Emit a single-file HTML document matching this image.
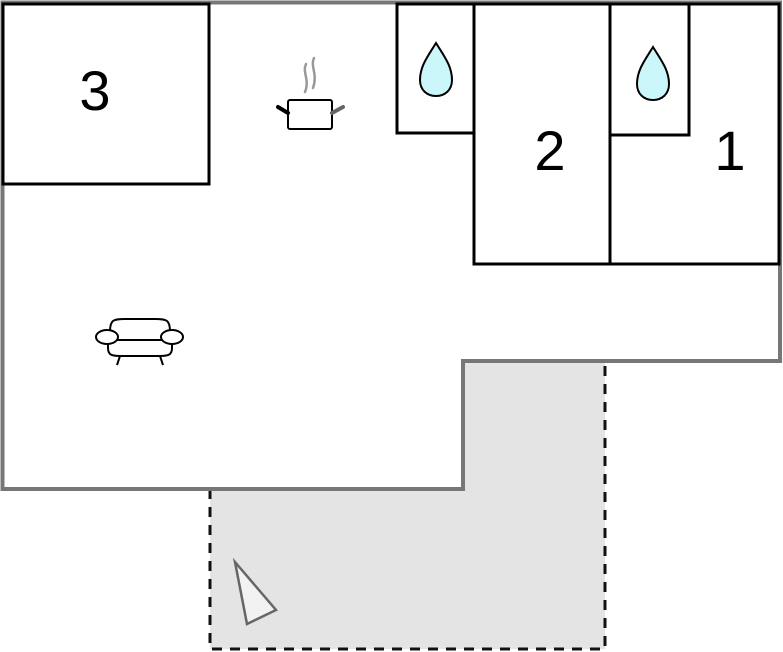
<!DOCTYPE html>
<html><head><meta charset="utf-8"><style>
html,body{margin:0;padding:0;background:#fff;width:783px;height:652px;overflow:hidden}
svg{display:block}
text{font-family:"Liberation Sans",sans-serif;font-size:56px;fill:#000}
</style></head><body>
<svg width="783" height="652" viewBox="0 0 783 652" xmlns="http://www.w3.org/2000/svg">
<!-- terrace -->
<rect x="210" y="362" width="395" height="287" fill="#e4e4e4"/>
<path d="M210 489 V649 H605 V362" fill="none" stroke="#111" stroke-width="3" stroke-dasharray="10,8"/>
<!-- outer wall -->
<path d="M2.5 2.5 H780 V361 H463 V489 H2.5 Z" fill="#fff" stroke="#777" stroke-width="4"/>
<path d="M2.5 2.5 H780 V361 H463 V489 H2.5 Z" fill="none" stroke="none"/>
<!-- rooms -->
<g fill="#fff" stroke="#000" stroke-width="3">
<rect x="3" y="4" width="206" height="180"/>
<rect x="397" y="4" width="77" height="129"/>
<rect x="474" y="4" width="136" height="260"/>
<rect x="610" y="4" width="169" height="260"/>
<rect x="610" y="4" width="79" height="131"/>
</g>
<text x="95" y="110" text-anchor="middle">3</text>
<text x="550" y="170" text-anchor="middle">2</text>
<text x="730" y="170" text-anchor="middle">1</text>
<!-- drops -->
<g fill="#ccf7fa" stroke="#000" stroke-width="2">
<path d="M436 43 C428 56 420 66 420 80 C420 90 427 96 436 96 C445 96 452 90 452 80 C452 66 444 56 436 43 Z"/>
<path d="M653 47 C645 60 637 70 637 84 C637 94 644 100 653 100 C662 100 669 94 669 84 C669 70 661 60 653 47 Z"/>
</g>
<!-- pot -->
<g fill="none" stroke-linecap="round">
<path d="M306 64 C302 72 310 80 305 92" stroke="#999" stroke-width="2.5"/>
<path d="M314 58 C310 66 318 74 313 88" stroke="#999" stroke-width="2.5"/>
<rect x="288" y="100" width="44" height="29" rx="2" fill="#fff" stroke="#000" stroke-width="2"/>
<path d="M278 107 L288 113" stroke="#000" stroke-width="4"/>
<path d="M332 113 L343 107" stroke="#666" stroke-width="4"/>
</g>
<!-- sofa -->
<g fill="#fff" stroke="#000" stroke-width="2">
<path d="M110 332 C110 320 113 319 125 319 H155 C167 319 170 320 170 332 V340 H110 Z"/>
<path d="M108 340 H172 V348 C172 355 168 356 160 356 H120 C112 356 108 355 108 348 Z"/>
<ellipse cx="107" cy="337" rx="11" ry="7"/>
<ellipse cx="172" cy="337" rx="11" ry="7"/>
<path d="M120 356 L117 365 M160 356 L163 365" fill="none"/>
</g>
<!-- triangle -->
<path d="M235 562 L276 610 L247 624 Z" fill="#f2f2f2" stroke="#666" stroke-width="2.5"/>
</svg>
</body></html>
